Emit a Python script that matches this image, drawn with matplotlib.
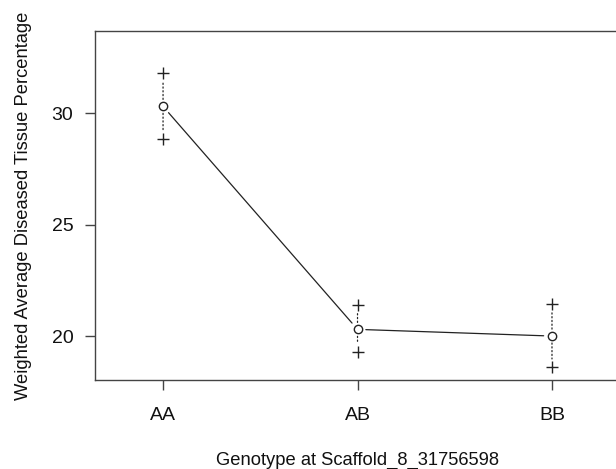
import matplotlib
matplotlib.use("Agg")
import matplotlib.pyplot as plt

genotypes = ["AA", "AB", "BB"]
means = [30.3, 20.3, 20.0]
upper = [31.8, 21.4, 21.45]
lower = [28.85, 19.3, 18.6]

plt.rcParams['font.family'] = ['Liberation Sans', 'DejaVu Sans']

fig = plt.figure(figsize=(6.16, 4.69), dpi=100)
ax = fig.add_axes([0.1542, 0.1898, 0.8508, 0.7441])

x = list(range(1, len(genotypes) + 1))
ax.set_xlim(0.65, 3.345)
ax.set_ylim(18.03, 33.68)

col = '#222222'
ax.plot(x, means, linestyle='none', marker='o', markersize=6,
        markerfacecolor='none', markeredgecolor=col, markeredgewidth=1)
ax.plot(x, upper, linestyle='none', marker='+', markersize=9,
        markeredgecolor=col, markeredgewidth=1)
ax.plot(x, lower, linestyle='none', marker='+', markersize=9,
        markeredgecolor=col, markeredgewidth=1)

for i in range(len(x) - 1):
    ax.annotate('', xy=(x[i + 1], means[i + 1]), xytext=(x[i], means[i]),
                arrowprops=dict(arrowstyle='-', shrinkA=6, shrinkB=6,
                                lw=0.9, color=col))
for i in range(len(x)):
    for v in (upper[i], lower[i]):
        ax.annotate('', xy=(x[i], v), xytext=(x[i], means[i]),
                    arrowprops=dict(arrowstyle='-', shrinkA=5, shrinkB=6,
                                    lw=0.9, color=col, linestyle=(0, (1, 2))))

ax.set_xticks(x)
ax.set_xticklabels(genotypes)
ax.set_yticks([20, 25, 30])
ax.tick_params(axis='both', direction='out', length=7.5, width=1,
               color='#444444', labelsize=14, labelcolor='#111111')
ax.tick_params(axis='x', pad=12)
ax.tick_params(axis='y', pad=8)
for s in ax.spines.values():
    s.set_color('#444444')
    s.set_linewidth(1)

ax.set_xlabel("Genotype at Scaffold_8_31756598", fontsize=13.2,
              labelpad=20, color='#111111')
ax.set_ylabel("Weighted Average Diseased Tissue Percentage", fontsize=13.2,
              labelpad=14, color='#111111')

fig.savefig("out.png", dpi=100)
